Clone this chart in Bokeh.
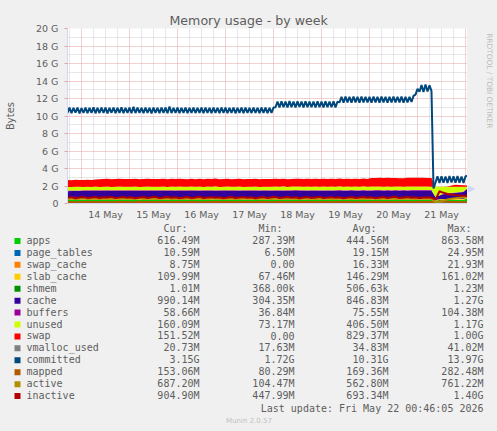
import numpy as np
import pandas as pd
from datetime import datetime, timedelta
from bokeh.plotting import figure
from bokeh.layouts import column, row
from bokeh.models import (ColumnDataSource, Range1d, FixedTicker,
                          DatetimeTickFormatter, Arrow, NormalHead)
from bokeh.core.properties import value
from bokeh.embed import file_html
from bokeh.resources import INLINE
try:
    from bokeh.models import GlobalInlineStyleSheet
except Exception:
    GlobalInlineStyleSheet = None

# ---------------- data (MiB, 2-hour samples from 2026-05-13 17:00) ----------------
stack_start = "2026-05-13 17:00"

apps = [420, 445, 398, 410, 465, 430, 415, 450, 402, 438,
        455, 420, 408, 440, 470, 425, 412, 448, 432, 405,
        445, 462, 418, 428, 452, 410, 437, 466, 421, 414,
        447, 433, 406, 458, 424, 441, 415, 470, 428, 409,
        452, 436, 419, 463, 427, 411, 444, 431, 455, 417,
        426, 460, 413, 439, 448, 422, 407, 465, 434, 418,
        450, 429, 412, 457, 440, 416, 446, 425, 468, 420,
        431, 452, 409, 443, 464, 426, 415, 449, 437, 411,
        458, 423, 441, 430, 466, 418, 435, 452, 427, 445,
        438, 420, 343, 400, 437, 435, 434, 425, 428, 442,
        616.49]
page_tables = [19.5, 20.1, 19.2, 19.8, 20.6, 19.9, 19.4, 20.3, 19.7, 20.0,
               20.4, 19.6, 19.3, 20.2, 20.8, 19.8, 19.5, 20.1, 20.5, 19.7,
               20.0, 20.7, 19.4, 19.9, 20.3, 19.6, 20.2, 21.0, 19.8, 19.5,
               20.1, 20.4, 19.3, 20.6, 19.9, 20.2, 19.6, 20.9, 20.0, 19.4,
               20.3, 19.8, 19.5, 20.7, 20.1, 19.6, 20.2, 19.9, 20.5, 19.7,
               20.0, 21.3, 20.4, 21.0, 21.6, 20.8, 20.5, 21.9, 21.2, 20.6,
               21.4, 20.9, 20.7, 21.8, 21.1, 20.6, 21.5, 21.0, 22.3, 21.2,
               22.0, 22.8, 21.9, 22.4, 23.1, 22.2, 21.8, 22.9, 22.5, 22.0,
               23.3, 22.6, 22.9, 22.4, 24.1, 23.0, 23.6, 24.95, 23.8, 24.2,
               23.9, 24.4, 6.5, 8.2, 9.1, 9.8, 10.2, 10.4, 10.7, 10.5,
               10.59]
swap_cache = [15.2, 16.1, 15.8, 16.5, 17.0, 16.3, 15.9, 16.8, 17.2, 16.6,
              17.5, 16.9, 16.4, 17.1, 17.8, 17.0, 16.7, 17.4, 17.9, 17.2,
              17.6, 18.1, 17.3, 17.7, 18.3, 17.5, 17.9, 18.6, 17.8, 17.4,
              18.0, 18.4, 17.6, 18.8, 18.1, 18.5, 17.9, 19.0, 18.3, 17.8,
              18.6, 18.2, 17.9, 19.1, 18.5, 18.0, 18.7, 18.3, 19.2, 18.4,
              18.9, 19.4, 18.7, 19.1, 19.6, 18.8, 19.3, 19.9, 19.2, 18.9,
              19.5, 19.1, 18.8, 19.7, 19.3, 19.0, 19.6, 19.2, 20.1, 19.4,
              19.8, 20.3, 19.6, 20.0, 20.6, 19.9, 19.7, 20.4, 20.1, 19.8,
              20.5, 20.0, 20.3, 19.9, 21.2, 20.4, 20.8, 21.93, 20.9, 21.1,
              20.7, 21.3, 0.0, 0.4, 1.5, 3.2, 4.8, 6.1, 7.4, 8.2,
              8.75]
slab_cache = [148, 151, 149, 153, 155, 150, 148, 152, 154, 151,
              153, 150, 149, 152, 156, 151, 150, 153, 155, 152,
              154, 156, 151, 153, 155, 150, 152, 157, 153, 151,
              154, 155, 150, 156, 153, 155, 151, 157, 154, 152,
              155, 153, 151, 156, 154, 152, 155, 153, 157, 152,
              154, 157, 153, 155, 158, 154, 153, 158, 155, 153,
              156, 154, 152, 157, 155, 153, 156, 154, 159, 155,
              157, 159, 155, 157, 160, 156, 155, 158, 157, 155,
              158, 156, 157, 155, 160, 157, 158, 161, 158, 159,
              157, 158, 67, 75, 82, 88, 94, 99, 103, 107,
              110]
shmem = [0.42, 0.45, 0.41, 0.44, 0.47, 0.43, 0.42, 0.46, 0.44, 0.43,
         0.45, 0.43, 0.42, 0.44, 0.48, 0.44, 0.43, 0.45, 0.47, 0.44,
         0.46, 0.48, 0.43, 0.45, 0.47, 0.44, 0.45, 0.49, 0.45, 0.44,
         0.46, 0.47, 0.44, 0.48, 0.45, 0.47, 0.44, 0.49, 0.46, 0.45,
         0.47, 0.46, 0.44, 0.48, 0.46, 0.45, 0.47, 0.46, 0.49, 0.45,
         0.47, 0.49, 0.46, 0.47, 0.50, 0.47, 0.46, 0.50, 0.48, 0.46,
         0.49, 0.47, 0.46, 0.50, 0.48, 0.47, 0.49, 0.48, 0.51, 0.48,
         0.50, 0.52, 0.49, 0.50, 0.53, 0.50, 0.49, 0.52, 0.51, 0.50,
         0.52, 0.51, 0.52, 0.50, 0.54, 0.52, 0.53, 0.55, 0.53, 0.54,
         0.52, 0.53, 0.37, 0.62, 0.78, 1.23, 0.95, 0.98, 1.02, 0.99,
         1.01]
cache = [845, 820, 880, 862, 815, 850, 868, 832, 875, 848,
         828, 858, 872, 840, 812, 855, 866, 835, 848, 878,
         838, 818, 862, 852, 830, 870, 845, 815, 860, 868,
         835, 850, 876, 824, 858, 840, 866, 812, 852, 872,
         830, 846, 864, 820, 856, 870, 838, 850, 826, 862,
         855, 822, 868, 842, 832, 860, 874, 818, 846, 864,
         832, 852, 870, 826, 842, 866, 836, 857, 814, 862,
         850, 830, 872, 838, 816, 856, 868, 834, 846, 872,
         826, 858, 840, 850, 812, 862, 846, 830, 856, 838,
         842, 860, 304, 450, 560, 620, 660, 700, 740, 790,
         990.14]
buffers = [70, 72, 69, 71, 75, 72, 70, 74, 71, 73,
           76, 73, 71, 74, 78, 74, 72, 75, 77, 73,
           75, 78, 72, 74, 77, 73, 75, 80, 74, 72,
           76, 77, 72, 79, 75, 77, 73, 81, 76, 74,
           78, 76, 73, 80, 77, 74, 78, 76, 82, 75,
           77, 81, 76, 78, 83, 77, 76, 84, 79, 77,
           81, 78, 76, 82, 79, 77, 81, 78, 86, 79,
           82, 87, 80, 83, 89, 82, 80, 88, 84, 81,
           87, 83, 85, 82, 93, 84, 87, 104, 86, 89,
           85, 88, 37, 42, 46, 49, 52, 54, 56, 57,
           58.66]
unused = [426, 398, 441, 415, 388, 432, 405, 447, 392, 420,
          436, 401, 418, 444, 395, 428, 409, 452, 386, 423,
          440, 397, 425, 412, 449, 390, 431, 406, 438, 415,
          396, 433, 410, 445, 388, 427, 414, 450, 393, 421,
          437, 402, 419, 443, 391, 429, 408, 448, 385, 424,
          415, 395, 430, 407, 442, 389, 426, 411, 446, 398,
          422, 404, 433, 390, 438, 412, 427, 396, 441, 403,
          418, 392, 429, 406, 437, 394, 421, 410, 433, 399,
          426, 388, 415, 432, 398, 420, 407, 388, 416, 405,
          412, 398, 1198, 980, 820, 750, 700, 660, 610, 540,
          160.09]
swap = [800, 805, 798, 802, 808, 803, 800, 806, 905, 902,
        906, 900, 903, 908, 904, 901, 907, 903, 900, 905,
        902, 906, 904, 900, 907, 903, 905, 901, 906, 904,
        903, 907, 900, 905, 902, 906, 904, 901, 907, 903,
        905, 901, 906, 903, 900, 907, 904, 902, 905, 903,
        906, 902, 904, 907, 901, 905, 903, 906, 900, 904,
        907, 903, 905, 901, 906, 904, 902, 907, 903, 905,
        904, 901, 906, 903, 905, 902, 1010, 1015, 1012, 1018,
        1014, 1020, 990, 975, 985, 1016, 1022, 1019, 1024, 1021,
        1018, 1023, 0, 0, 0, 40, 160, 240, 220, 190,
        151.52]
vmalloc_used = [35.2, 36.1, 35.0, 35.8, 36.5, 35.4, 35.9, 36.3, 35.1, 35.7,
                36.2, 35.3, 35.6, 36.4, 35.5, 36.0, 35.2, 35.8, 36.6, 35.4,
                35.9, 36.5, 35.3, 36.0, 35.6, 36.7, 35.4, 36.1, 36.3, 35.2,
                36.0, 35.5, 36.6, 35.8, 35.3, 36.4, 35.9, 36.9, 35.6, 36.2,
                35.7, 36.8, 35.4, 36.1, 36.5, 35.6, 36.2, 35.3, 37.0, 35.9,
                36.3, 35.7, 36.9, 36.0, 36.6, 35.5, 37.2, 36.1, 35.8, 36.7,
                36.2, 37.4, 35.9, 36.5, 36.0, 37.1, 35.7, 36.4, 37.3, 36.1,
                36.8, 36.2, 37.6, 36.6, 36.0, 37.2, 36.5, 38.0, 36.3, 37.0,
                36.7, 37.9, 36.4, 37.1, 37.7, 36.6, 37.3, 36.2, 41.0, 37.0,
                37.4, 36.8, 17.6, 18.5, 19.2, 19.8, 20.1, 20.4, 20.6, 20.5,
                20.73]
mapped = [165, 180, 158, 172, 190, 162, 175, 185, 155, 170,
          182, 160, 168, 188, 164, 176, 152, 170, 192, 163,
          172, 186, 158, 174, 165, 190, 160, 178, 183, 156,
          176, 162, 188, 168, 155, 182, 170, 194, 161, 175,
          166, 187, 157, 173, 184, 163, 176, 154, 191, 168,
          174, 160, 186, 165, 180, 156, 189, 170, 162, 182,
          167, 190, 159, 175, 164, 185, 155, 172, 188, 163,
          178, 161, 187, 169, 157, 183, 171, 195, 162, 176,
          168, 189, 158, 174, 185, 164, 177, 156, 192, 169,
          175, 166, 80, 282, 240, 210, 190, 175, 165, 158,
          153.06]
active = [545, 580, 530, 565, 600, 540, 570, 590, 525, 560,
          585, 535, 555, 595, 545, 575, 520, 565, 600, 540,
          560, 590, 530, 570, 545, 598, 535, 565, 580, 528,
          575, 540, 595, 555, 530, 585, 560, 600, 538, 570,
          550, 592, 532, 568, 585, 542, 572, 528, 598, 555,
          565, 535, 590, 548, 578, 528, 595, 558, 540, 582,
          552, 598, 536, 570, 544, 588, 530, 566, 592, 548,
          578, 540, 596, 556, 532, 586, 562, 602, 540, 572,
          554, 594, 534, 570, 588, 544, 574, 530, 600, 558,
          566, 552, 104, 220, 360, 480, 560, 620, 680, 761,
          687.2]
inactive = [680, 745, 620, 710, 770, 655, 700, 760, 640, 725,
            690, 775, 630, 715, 750, 660, 735, 610, 700, 765,
            645, 720, 780, 625, 705, 755, 670, 730, 615, 695,
            760, 650, 715, 785, 635, 700, 745, 665, 725, 605,
            690, 770, 640, 710, 755, 660, 735, 620, 700, 765,
            650, 720, 780, 630, 705, 750, 670, 730, 612, 695,
            760, 645, 715, 775, 635, 700, 745, 660, 725, 608,
            688, 768, 642, 712, 758, 662, 738, 622, 702, 768,
            652, 722, 782, 632, 708, 752, 672, 732, 618, 698,
            742, 680, 448, 1434, 1250, 1120, 1050, 980, 940, 920,
            904.9]

# committed (GiB, hourly samples from 2026-05-13 17:00)
committed = [10.35, 10.95, 10.32, 10.92, 10.38, 10.97, 10.30, 10.90, 10.35, 10.96, 10.33, 10.94,
             10.36, 10.98, 10.31, 10.93, 10.34, 10.97, 10.35, 10.95, 10.30, 10.92, 10.37, 10.96,
             10.33, 10.94, 10.36, 10.98, 10.32, 10.93, 10.35, 10.96, 10.31, 11.05, 10.34, 10.95,
             10.36, 10.93, 10.33, 10.97, 10.35, 10.94, 10.30, 10.96, 10.36, 10.92, 10.33, 10.97,
             10.35, 10.95, 10.31, 11.08, 10.34, 10.94, 10.36, 10.96, 10.33, 10.93, 10.35, 10.97,
             10.32, 10.94, 10.36, 10.96, 10.34, 10.92, 10.35, 10.97, 10.31, 10.95, 10.36, 10.93,
             10.33, 10.96, 10.35, 10.94, 10.32, 10.97, 10.36, 10.95, 10.34, 10.93, 10.35, 10.96,
             10.31, 10.94, 10.36, 10.97, 10.33, 10.95, 10.35, 10.92, 10.34, 10.96, 10.36, 10.94,
             10.32, 10.97, 10.35, 10.95, 10.33, 10.93, 10.36, 10.96, 11.00, 11.65, 10.98, 11.68,
             11.02, 11.66, 10.97, 11.70, 11.01, 11.64, 10.99, 11.67, 11.03, 11.65, 10.98, 11.69,
             11.00, 11.66, 11.02, 11.64, 10.97, 11.68, 11.01, 11.65, 10.99, 11.67, 11.02, 11.66,
             11.00, 11.68, 10.98, 11.65, 11.55, 12.20, 11.52, 12.22, 11.56, 12.18, 11.53, 12.21,
             11.55, 12.19, 11.51, 12.23, 11.54, 12.20, 11.56, 12.18, 11.52, 12.22, 11.55, 12.19,
             11.53, 12.21, 11.56, 12.20, 11.52, 12.18, 11.55, 12.22, 11.54, 12.19, 11.56, 12.21,
             11.53, 12.20, 11.55, 12.18, 11.60, 12.30, 12.45, 13.10, 12.78, 13.55, 12.75, 13.60,
             12.80, 13.52, 12.85, 1.72, 2.40, 3.10, 2.35, 3.12, 2.38, 3.08, 2.36, 3.15,
             2.40, 3.10, 2.37, 3.13, 2.39, 3.09, 2.36, 3.12, 3.15]

series_names = ["apps", "page_tables", "swap_cache", "slab_cache", "shmem", "cache",
                "buffers", "unused", "swap", "vmalloc_used", "committed", "mapped",
                "active", "inactive"]
series_colors = ["#00CC00", "#0066B3", "#FF8000", "#FFCC00", "#008F00", "#330099",
                 "#990099", "#CCFF00", "#FF0000", "#808080", "#00487D", "#B35A00",
                 "#B38F00", "#B30000"]
cur_vals = ["616.49M", "10.59M", "8.75M", "109.99M", "1.01M", "990.14M", "58.66M",
            "160.09M", "151.52M", "20.73M", "3.15G", "153.06M", "687.20M", "904.90M"]
min_vals = ["287.39M", "6.50M", "0.00", "67.46M", "368.00k", "304.35M", "36.84M",
            "73.17M", "0.00", "17.63M", "1.72G", "80.29M", "104.47M", "447.99M"]
avg_vals = ["444.56M", "19.15M", "16.33M", "146.29M", "506.63k", "846.83M", "75.55M",
            "406.50M", "829.37M", "34.83M", "10.31G", "169.36M", "562.80M", "693.34M"]
max_vals = ["863.58M", "24.95M", "21.93M", "161.02M", "1.23M", "1.27G", "104.38M",
            "1.17G", "1.00G", "41.02M", "13.97G", "282.48M", "761.22M", "1.40G"]
col_headers = ["Cur:", "Min:", "Avg:", "Max:"]

y_ticks = [0, 2, 4, 6, 8, 10, 12, 14, 16, 18, 20]
y_tick_labels = ["0", "2 G", "4 G", "6 G", "8 G", "10 G", "12 G", "14 G", "16 G", "18 G", "20 G"]
day_labels = ["14 May", "15 May", "16 May", "17 May", "18 May", "19 May", "20 May", "21 May"]

title_text = "Memory usage - by week"
y_label = "Bytes"
last_update = "Last update: Fri May 22 00:46:05 2026"
footer = "Munin 2.0.57"
side_text = "RRDTOOL / TOBI OETIKER"

# ---------------- helpers ----------------
EPOCH = datetime(1970, 1, 1)
def ms(dt):
    return int((dt - EPOCH).total_seconds() * 1000)

FONT = "#5e5e5e"
BG = "#f0f0f0"
AXIS = "#cfd6f8"
stack_names = series_names[:9]
stack_colors = series_colors[:9]
stack_lists = [apps, page_tables, swap_cache, slab_cache, shmem, cache, buffers, unused, swap]

t_stack = pd.date_range(stack_start, periods=len(apps), freq="2h")
data = {"t": t_stack}
for n, arr in zip(stack_names, stack_lists):
    data[n] = np.array(arr, dtype=float) / 1024.0
for n, arr in zip(["vmalloc_used", "mapped", "active", "inactive"],
                  [vmalloc_used, mapped, active, inactive]):
    data[n] = np.array(arr, dtype=float) / 1024.0
src = ColumnDataSource(data)
csrc = ColumnDataSource({"t": pd.date_range(stack_start, periods=len(committed), freq="1h"),
                         "committed": committed})

x0 = datetime(2026, 5, 13, 17)
x1 = datetime(2026, 5, 22, 1)

# ---------------- chart ----------------
p = figure(width=467, height=222, x_axis_type="datetime",
           x_range=Range1d(ms(x0), ms(x1)), y_range=Range1d(0, 20),
           toolbar_location=None, tools="", output_backend="svg",
           min_border_left=67, min_border_right=0, min_border_top=28, min_border_bottom=19)
p.background_fill_color = "#ffffff"
p.border_fill_color = BG
p.outline_line_color = None

p.title.text = title_text
p.title.align = "left"
p.title.offset = 102
p.title.standoff = 2
p.title.vertical_align = "bottom"
p.title.text_font = "DejaVu Sans"
p.title.text_font_size = "12.6px"
p.title.text_font_style = "normal"
p.title.text_color = FONT

p.varea_stack(stackers=stack_names, x="t", color=stack_colors, source=src)
p.line("t", "vmalloc_used", source=src, line_width=2, color=series_colors[9])
p.line("t", "committed", source=csrc, line_width=2, color=series_colors[10])
p.line("t", "mapped", source=src, line_width=2, color=series_colors[11])
p.line("t", "active", source=src, line_width=2, color=series_colors[12])
p.line("t", "inactive", source=src, line_width=2, color=series_colors[13])

noons = [ms(datetime(2026, 5, 14, 12) + timedelta(days=i)) for i in range(len(day_labels))]
midnights = [ms(datetime(2026, 5, 14) + timedelta(days=i)) for i in range(9)]
six_h = [ms(datetime(2026, 5, 13, 18) + timedelta(hours=6 * i)) for i in range(34)]
six_h = [v for v in six_h if v not in midnights]

p.xaxis.ticker = FixedTicker(ticks=noons)
p.xaxis.formatter = DatetimeTickFormatter(hours="%d %b", days="%d %b", months="%d %b")
p.xaxis.major_label_overrides = {k: v for k, v in zip(noons, day_labels)}
p.yaxis.ticker = FixedTicker(ticks=y_ticks, minor_ticks=[v + 1 for v in y_ticks[:-1]])
p.yaxis.major_label_overrides = {k: v for k, v in zip(y_ticks, y_tick_labels)}

for ax in (p.xaxis[0], p.yaxis[0]):
    ax.axis_line_color = AXIS
    ax.major_label_text_font = "DejaVu Sans"
    ax.major_label_text_font_size = "9.5px"
    ax.major_label_text_color = FONT
    ax.minor_tick_line_color = None
    ax.major_label_standoff = 5
p.xaxis.major_tick_line_color = None
p.xaxis.major_tick_out = 0
p.xaxis.major_tick_in = 0
p.yaxis.major_tick_line_color = "#e5a3a3"
p.yaxis.major_tick_out = 3
p.yaxis.major_tick_in = 0
p.yaxis.axis_label = y_label
p.yaxis.axis_label_text_font = "DejaVu Sans"
p.yaxis.axis_label_text_font_size = "10px"
p.yaxis.axis_label_text_font_style = "normal"
p.yaxis.axis_label_text_color = FONT
p.yaxis.axis_label_standoff = 17

p.xgrid.ticker = FixedTicker(ticks=midnights, minor_ticks=six_h)
p.ygrid.ticker = FixedTicker(ticks=y_ticks, minor_ticks=[v + 1 for v in y_ticks[:-1]])
for g in (p.xgrid[0], p.ygrid[0]):
    g.grid_line_color = "#e5a3a3"
    g.grid_line_dash = "1 1"
    g.minor_grid_line_color = "#cfcfcf"
    g.minor_grid_line_dash = "1 1"
    g.level = "underlay"

# ---------------- right strip: x-axis arrow + vertical credit ----------------
r = figure(width=30, height=222, x_range=Range1d(467, 497), y_range=Range1d(222, 0),
           toolbar_location=None, tools="", output_backend="svg",
           x_axis_location=None, y_axis_location=None, min_border=0)
r.grid.visible = False
r.outline_line_color = None
r.background_fill_color = BG
r.border_fill_color = BG
r.add_layout(Arrow(end=NormalHead(size=6, fill_color=AXIS, line_color=AXIS),
                   x_start=466, y_start=203.5, x_end=474, y_end=203.5,
                   line_color=AXIS, line_width=1))
r.text(x=[488.5], y=[6], text=[side_text], angle=-np.pi / 2, text_align="left",
       text_baseline="middle", text_font=value("DejaVu Sans"),
       text_font_size=value("7.4px"), text_color="#bbbbbb")

# ---------------- legend table ----------------
q = figure(width=497, height=209, x_range=Range1d(0, 497), y_range=Range1d(431, 222),
           toolbar_location=None, tools="", output_backend="svg",
           x_axis_location=None, y_axis_location=None, min_border=0)
q.grid.visible = False
q.outline_line_color = None
q.background_fill_color = BG
q.border_fill_color = BG

row_y = [240 + 11.93 * i for i in range(len(series_names))]
mono = value("DejaVu Sans Mono")
fs = value("10px")
q.rect(x=[17] * len(row_y), y=[y + 0.5 for y in row_y], width=6, height=6,
       fill_color=series_colors, line_color=None)
q.text(x=[26] * len(row_y), y=row_y, text=series_names, text_align="left",
       text_baseline="middle", text_font=mono, text_font_size=fs, text_color=FONT)
for xr, vals in zip([199, 294, 388, 483], [cur_vals, min_vals, avg_vals, max_vals]):
    q.text(x=[xr] * len(row_y), y=row_y, text=vals, text_align="right",
           text_baseline="middle", text_font=mono, text_font_size=fs, text_color=FONT)
q.text(x=[187, 282, 376, 471], y=[228] * 4, text=col_headers, text_align="right",
       text_baseline="middle", text_font=mono, text_font_size=fs, text_color=FONT)
q.text(x=[483], y=[408], text=[last_update], text_align="right", text_baseline="middle",
       text_font=mono, text_font_size=fs, text_color=FONT)
q.text(x=[248.5], y=[420], text=[footer], text_align="center", text_baseline="middle",
       text_font=value("DejaVu Sans"), text_font_size=value("7px"), text_color="#c0c0c0")

layout = column(row(p, r), q)
if GlobalInlineStyleSheet is not None:
    layout.stylesheets = [GlobalInlineStyleSheet(css="body { background-color: #f0f0f0; }")]

open("out.html", "w").write(file_html(layout, INLINE))
